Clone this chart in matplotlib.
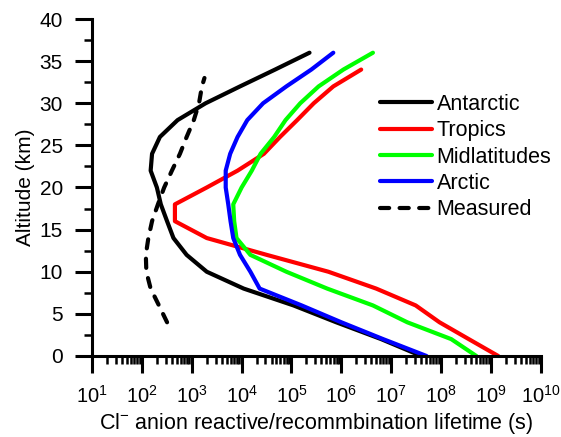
import matplotlib
matplotlib.use("Agg")
import matplotlib.pyplot as plt
from matplotlib.ticker import LogLocator, MultipleLocator, NullFormatter
import numpy as np

plt.rcParams["font.family"] = ["Liberation Sans", "DejaVu Sans"]
plt.rcParams["mathtext.fontset"] = "custom"
plt.rcParams["mathtext.rm"] = "Liberation Sans"
plt.rcParams["mathtext.default"] = "regular"

# altitude (km) and lifetimes (s)
alt = np.arange(0, 37, 2)
antarctic = [4.0e7, 6.3e6, 7.9e5, 1.1e5, 1.1e4, 2.0e3, 7.9e2, 4.3e2, 3.2e2, 2.4e2,
             2.0e2, 1.5e2, 1.6e2, 2.3e2, 5.2e2, 1.9e3, 9.3e3, 4.7e4, 2.3e5]
midlat = [5.1e8, 1.6e8, 2.1e7, 4.3e6, 5.2e5, 7.9e4, 1.5e4, 7.9e3, 7.1e3, 6.8e3,
          1.0e4, 1.6e4, 2.4e4, 4.5e4, 7.6e4, 1.5e5, 3.5e5, 1.1e6, 4.3e6]
arctic = [5.1e7, 6.9e6, 1.0e6, 1.6e5, 2.3e4, 1.5e4, 9.3e3, 6.8e3, 6.0e3, 5.4e3,
          4.8e3, 4.8e3, 5.9e3, 8.3e3, 1.3e4, 2.7e4, 7.9e4, 2.5e5, 6.9e5]

alt_trop = np.arange(0, 35, 2)
tropics = [1.4e9, 3.6e8, 9.3e7, 3.1e7, 5.0e6, 5.5e5, 3.2e4, 2.0e3, 4.6e2, 4.6e2,
           2.0e3, 8.3e3, 2.8e4, 5.9e4, 1.3e5, 2.8e5, 6.9e5, 2.5e6]

alt_meas = [4, 6, 8, 10, 12, 14, 16, 18, 20, 22, 24, 26, 28, 30, 32, 33]
measured = [3.2e2, 2.2e2, 1.5e2, 1.23e2, 1.2e2, 1.35e2, 1.6e2, 2.1e2, 2.8e2, 4.0e2,
            5.8e2, 7.9e2, 1.1e3, 1.4e3, 1.6e3, 1.8e3]

fig = plt.figure(figsize=(5.61, 4.37), dpi=100)
ax = fig.add_axes([0.164, 0.1854, 0.8, 0.7711])

lw = 3.0
kw = dict(lw=lw, solid_capstyle="round", solid_joinstyle="round")
ax.plot(antarctic, alt, color="black", label="Antarctic", **kw)
ax.plot(tropics, alt_trop, color="#ff0000", label="Tropics", **kw)
ax.plot(midlat, alt, color="#00ff00", label="Midlatitudes", **kw)
ax.plot(arctic, alt, color="#0000ff", label="Arctic", **kw)
ax.plot(measured, alt_meas, color="black", lw=lw, ls=(0, (2.2, 2.5)),
        dash_capstyle="round", label="Measured")

ax.set_xscale("log")
ax.set_xlim(1e1, 1e10)
ax.set_ylim(0, 40)
ax.xaxis.set_major_locator(LogLocator(base=10, numticks=20))
ax.xaxis.set_minor_locator(LogLocator(base=10, subs=np.arange(2, 10), numticks=20))
ax.xaxis.set_minor_formatter(NullFormatter())
ax.yaxis.set_major_locator(MultipleLocator(5))
ax.yaxis.set_minor_locator(MultipleLocator(2.5))

for s in ["top", "right"]:
    ax.spines[s].set_visible(False)
for s in ["left", "bottom"]:
    ax.spines[s].set_linewidth(2.2)

ax.tick_params(which="major", direction="out", length=12, width=2.2)
ax.tick_params(which="minor", direction="out", length=6, width=1.8)
ax.tick_params(axis="x", which="major", pad=9, labelsize=14.5)
ax.tick_params(axis="y", which="major", pad=9, labelsize=15)

ax.set_xlabel(r"Cl$^{-}$ anion reactive/recommbination lifetime (s)", fontsize=15.5, labelpad=3)
ax.set_ylabel("Altitude (km)", fontsize=15, labelpad=3)

ax.legend(loc="upper left", bbox_to_anchor=(0.641, 0.778), frameon=False, fontsize=15.5,
          borderpad=0, borderaxespad=0, handlelength=2.42, handletextpad=0.23,
          labelspacing=0.25)

fig.savefig("out.png", dpi=100)
